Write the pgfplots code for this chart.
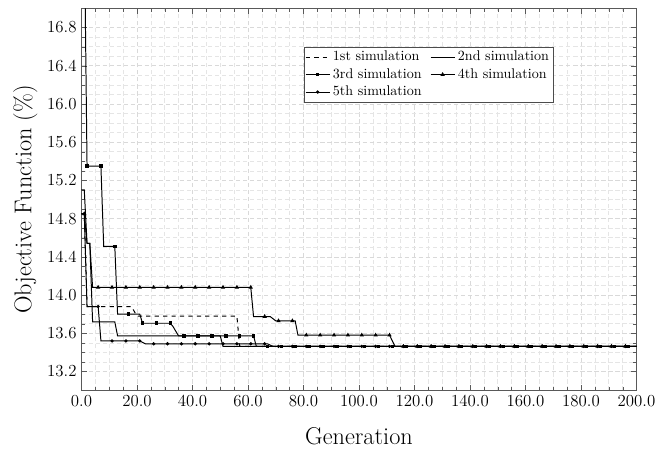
\documentclass[border=0pt]{standalone}
\usepackage{pgfplots}
\pgfplotsset{compat=1.18}
\begin{document}
\begin{tikzpicture}
\begin{axis}[
  scale only axis,
  width=395pt, height=272pt,
  xmin=0, xmax=200, ymin=13, ymax=17,
  xtick={0,20,40,60,80,100,120,140,160,180,200},
  ytick={13.2,13.6,14.0,14.4,14.8,15.2,15.6,16.0,16.4,16.8},
  minor x tick num=3, minor y tick num=3,
  grid=both,
  major grid style={densely dashed, black!15},
  minor grid style={densely dashed, black!10},
  axis line style={black!65},
  tick style={black!65},
  tick label style={font=\large},
  x tick label style={/pgf/number format/.cd, fixed, fixed zerofill, precision=1, /tikz/.cd},
  y tick label style={/pgf/number format/.cd, fixed, fixed zerofill, precision=1, /tikz/.cd},
  xlabel={Generation}, ylabel={Objective Function (\%)},
  label style={font=\LARGE},
  xlabel style={yshift=-8pt},
  legend style={at={(0.4,0.9)}, anchor=north west, legend columns=2, font=\normalsize,
    draw=black!70, cells={anchor=west}, inner sep=1pt,
    /tikz/every even column/.append style={column sep=4pt}},
  every axis plot/.append style={black, line width=0.7pt},
]
% 1st simulation
\addplot[dashed, forget plot] coordinates {(0,14.85)(1,14.85)(2,13.88)(18,13.88)(19,13.83)(20,13.78)(56,13.78)(57,13.463)(200,13.463)};
% 2nd simulation
\addplot[forget plot] coordinates {(0,15.1)(1,15.1)(2,14.54)(3,14.54)(4,13.72)(12,13.72)(13,13.573)(50,13.573)(51,13.463)(200,13.463)};
% 3rd simulation
\addplot[forget plot] coordinates {(0,17.9)(1,17.9)(2,15.35)(7,15.35)(8,14.51)(12,14.51)(13,13.80)(21,13.80)(22,13.705)(32,13.705)(33,13.67)(34,13.62)(35,13.573)(62,13.573)(63,13.463)(200,13.463)};
\addplot[only marks, mark=square*, mark size=0.9pt, forget plot] coordinates {(2,15.35)(7,15.35)(12,14.51)(17,13.80)(22,13.705)(27,13.705)(32,13.705)(37,13.573)(42,13.573)(47,13.573)(52,13.573)(57,13.573)(62,13.573)(67,13.463)(72,13.463)(77,13.463)(82,13.463)(87,13.463)(92,13.463)(97,13.463)(102,13.463)(107,13.463)(112,13.463)(117,13.463)(122,13.463)(127,13.463)(132,13.463)(137,13.463)(142,13.463)(147,13.463)(152,13.463)(157,13.463)(162,13.463)(167,13.463)(172,13.463)(177,13.463)(182,13.463)(187,13.463)(192,13.463)(197,13.463)};
% 4th simulation
\addplot[forget plot] coordinates {(0,14.85)(1,14.85)(2,14.54)(3,14.54)(4,14.08)(61,14.08)(62,13.775)(68,13.775)(70,13.73)(77,13.73)(78,13.58)(111,13.58)(113,13.463)(200,13.463)};
\addplot[only marks, mark=triangle*, mark size=1.1pt, forget plot] coordinates {(1,14.85)(6,14.08)(11,14.08)(16,14.08)(21,14.08)(26,14.08)(31,14.08)(36,14.08)(41,14.08)(46,14.08)(51,14.08)(56,14.08)(61,14.08)(66,13.775)(71,13.73)(76,13.73)(81,13.58)(86,13.58)(91,13.58)(96,13.58)(101,13.58)(106,13.58)(111,13.58)(116,13.463)(121,13.463)(126,13.463)(131,13.463)(136,13.463)(141,13.463)(146,13.463)(151,13.463)(156,13.463)(161,13.463)(166,13.463)(171,13.463)(176,13.463)(181,13.463)(186,13.463)(191,13.463)(196,13.463)};
% 5th simulation
\addplot[forget plot] coordinates {(0,14.85)(1,14.85)(2,13.88)(6,13.88)(7,13.52)(21,13.52)(23,13.49)(67,13.49)(69,13.463)(200,13.463)};
\addplot[only marks, mark=*, mark size=0.8pt, forget plot] coordinates {(1,14.85)(6,13.88)(11,13.52)(16,13.52)(21,13.52)(26,13.49)(31,13.49)(36,13.49)(41,13.49)(46,13.49)(51,13.49)(56,13.49)(61,13.49)(66,13.49)(71,13.463)(76,13.463)(81,13.463)(86,13.463)(91,13.463)(96,13.463)(101,13.463)(106,13.463)(111,13.463)(116,13.463)(121,13.463)(126,13.463)(131,13.463)(136,13.463)(141,13.463)(146,13.463)(151,13.463)(156,13.463)(161,13.463)(166,13.463)(171,13.463)(176,13.463)(181,13.463)(186,13.463)(191,13.463)(196,13.463)};
\addlegendimage{black, line width=0.7pt, dashed}\addlegendentry{1st simulation}
\addlegendimage{black, line width=0.7pt}\addlegendentry{2nd simulation}
\addlegendimage{black, line width=0.7pt, mark=square*, mark size=0.9pt}\addlegendentry{3rd simulation}
\addlegendimage{black, line width=0.7pt, mark=triangle*, mark size=1.1pt}\addlegendentry{4th simulation}
\addlegendimage{black, line width=0.7pt, mark=*, mark size=0.8pt}\addlegendentry{5th simulation}
\end{axis}
\path ([yshift=6pt]current axis.north);
\path ([xshift=-58pt]current axis.west);
\end{tikzpicture}
\end{document}
